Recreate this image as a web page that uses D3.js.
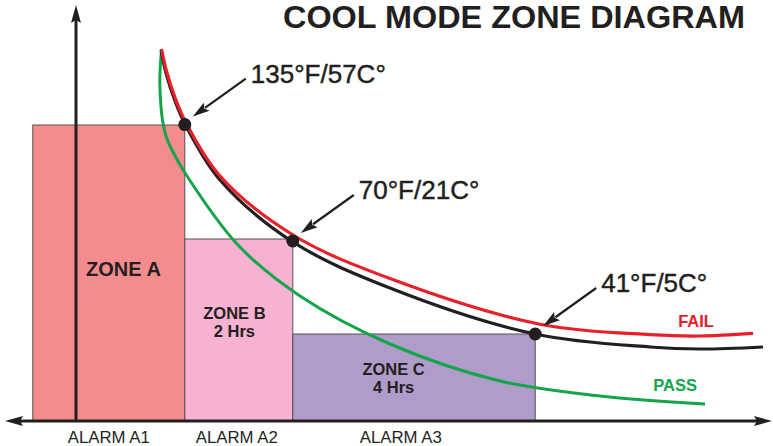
<!DOCTYPE html>
<html>
<head>
<meta charset="utf-8">
<script src="https://cdn.jsdelivr.net/npm/d3@7"></script>
<style>
  html, body { margin: 0; padding: 0; background: #ffffff; }
  svg { display: block; }
  text { font-family: "Liberation Sans", Arial, Helvetica, sans-serif; fill: #231f20; }
</style>
</head>
<body>
<svg id="chart" width="773" height="446"></svg>
<script>
// ---------------- DATA ----------------
const title = "COOL MODE ZONE DIAGRAM";

const zoneNames     = ["ZONE A", "ZONE B", "ZONE C"];
const zoneDurations = ["", "2 Hrs", "4 Hrs"];
const zoneStart     = [-5.4, 13.6, 27.1];
const zoneEnd       = [13.6, 27.1, 57.4];
const zoneLevel     = [74, 45.5, 21.75];

const alarmLabels = ["ALARM A1", "ALARM A2", "ALARM A3"];

const thresholdLabels = ["135°F/57C°", "70°F/21C°", "41°F/5C°"];
const thresholdX      = [13.6, 27.1, 57.4];
const thresholdY      = [74.1, 45.0, 21.75];

// reference (black) cooling curve
const limitCurve = [
  [10.63, 92.75], [11.25, 87.0], [12.38, 80.0], [13.63, 74.25], [18.0, 60.25],
  [27.13, 44.75], [39.25, 33.25], [57.38, 21.75], [71.75, 18.5], [78.0, 18.0], [85.88, 18.5]
];
// FAIL (red) curve
const failCurve = [
  [10.69, 93.0], [11.31, 87.5], [12.44, 80.5], [13.63, 75.0], [18.0, 61.25],
  [27.13, 46.5], [39.25, 35.6], [58.0, 24.2], [71.75, 21.6], [78.0, 21.25], [84.63, 21.9]
];
// PASS (green) curve
const passCurve = [
  [10.69, 92.75], [10.48, 85.75], [10.58, 79.75], [10.81, 75.25], [11.25, 71.25],
  [12.0, 67.75], [13.63, 62.0], [20.25, 44.0], [28.0, 31.25], [39.25, 19.25],
  [53.0, 10.0], [65.5, 6.25], [78.63, 4.25]
];

const curveLabels = ["FAIL", "PASS"];

// ---------------- LAYOUT / STYLE ----------------
const W = 773, H = 446;
const ink = "#231f20";
const zoneFill = ["#f48c8d", "#f7b1d1", "#b09ccb"];
const failColor = "#e8202a";
const passColor = "#14a54a";

const x = d3.scaleLinear().domain([-8.875, 87]).range([5, 772]);
const y = d3.scaleLinear().domain([0, 104]).range([421, 5]);

const svg = d3.select("#chart");

// zones
const zones = zoneNames.map((n, i) => ({ name: n, dur: zoneDurations[i], x0: zoneStart[i], x1: zoneEnd[i], top: zoneLevel[i], fill: zoneFill[i] }));
svg.append("g").selectAll("rect").data(zones).join("rect")
  .attr("x", d => x(d.x0))
  .attr("y", d => y(d.top))
  .attr("width", d => x(d.x1) - x(d.x0))
  .attr("height", d => y(0) - y(d.top))
  .attr("fill", d => d.fill)
  .attr("stroke", "#555152")
  .attr("stroke-width", 1);

// y axis (vertical arrow)
const ax0 = x(0);
svg.append("line")
  .attr("x1", ax0).attr("x2", ax0)
  .attr("y1", y(0)).attr("y2", y(104) + 14)
  .attr("stroke", ink).attr("stroke-width", 3);
svg.append("path")
  .attr("d", `M${ax0},${y(104)} L${ax0 - 5},${y(104) + 18} L${ax0},${y(104) + 15} L${ax0 + 5},${y(104) + 18} Z`)
  .attr("fill", ink);

// curves
const line = d3.line().x(d => x(d[0])).y(d => y(d[1])).curve(d3.curveCatmullRom.alpha(0.5));
svg.append("path").attr("d", line(passCurve)).attr("fill", "none").attr("stroke", passColor).attr("stroke-width", 3);
svg.append("path").attr("d", line(limitCurve)).attr("fill", "none").attr("stroke", ink).attr("stroke-width", 3.2);
svg.append("path").attr("d", line(failCurve)).attr("fill", "none").attr("stroke", failColor).attr("stroke-width", 3.2);

// x axis (double arrow)
const xa = y(0), xl = x(-8.875), xr = x(87);
svg.append("line")
  .attr("x1", xl + 12).attr("x2", xr - 12)
  .attr("y1", xa).attr("y2", xa)
  .attr("stroke", ink).attr("stroke-width", 3);
svg.append("path")
  .attr("d", `M${xl},${xa} L${xl + 18},${xa - 5} L${xl + 15},${xa} L${xl + 18},${xa + 5} Z`)
  .attr("fill", ink);
svg.append("path")
  .attr("d", `M${xr},${xa} L${xr - 18},${xa - 5} L${xr - 15},${xa} L${xr - 18},${xa + 5} Z`)
  .attr("fill", ink);

// threshold dots
const pts = thresholdLabels.map((t, i) => ({ label: t, px: x(thresholdX[i]), py: y(thresholdY[i]) }));
svg.append("g").selectAll("circle").data(pts).join("circle")
  .attr("cx", d => d.px).attr("cy", d => d.py).attr("r", 6.5).attr("fill", ink);

// pointer arrows + labels
const tipOff = [8, -8], tailOff = [61, -46];
pts.forEach(d => {
  const tx = d.px + tipOff[0], ty = d.py + tipOff[1];
  const sx = d.px + tailOff[0], sy = d.py + tailOff[1];
  const ang = Math.atan2(ty - sy, tx - sx);
  const L = 17, hw = 5;
  const bx = tx - L * Math.cos(ang), by = ty - L * Math.sin(ang);
  const nx = -Math.sin(ang), ny = Math.cos(ang);
  svg.append("line").attr("x1", sx).attr("y1", sy).attr("x2", bx + 2 * Math.cos(ang)).attr("y2", by + 2 * Math.sin(ang))
    .attr("stroke", ink).attr("stroke-width", 2.2);
  svg.append("path")
    .attr("d", `M${tx},${ty} L${bx + nx * hw},${by + ny * hw} L${bx + 3 * Math.cos(ang)},${by + 3 * Math.sin(ang)} L${bx - nx * hw},${by - ny * hw} Z`)
    .attr("fill", ink);
  svg.append("text")
    .attr("x", d.px + 66).attr("y", d.py - 42)
    .attr("font-size", 26)
    .attr("stroke", ink).attr("stroke-width", 0.45)
    .text(d.label);
});

// zone labels
const zoneLabelPos = [[5.94, 36.25], [19.8, 25.4], [39.7, 11.4]];
const zoneLabelSize = [20, 16.5, 16.5];
zones.forEach((z, i) => {
  svg.append("text")
    .attr("x", x(zoneLabelPos[i][0])).attr("y", y(zoneLabelPos[i][1]))
    .attr("text-anchor", "middle").attr("font-weight", "bold")
    .attr("font-size", zoneLabelSize[i])
    .text(z.name);
  if (z.dur) {
    svg.append("text")
      .attr("x", x(zoneLabelPos[i][0])).attr("y", y(zoneLabelPos[i][1]) + 17.5)
      .attr("text-anchor", "middle").attr("font-weight", "bold")
      .attr("font-size", zoneLabelSize[i])
      .text(z.dur);
  }
});

// alarm labels
const alarmPos = [4.1, 20.1, 40.6];
alarmLabels.forEach((a, i) => {
  svg.append("text")
    .attr("x", x(alarmPos[i])).attr("y", 443)
    .attr("text-anchor", "middle")
    .attr("font-size", 16)
    .attr("textLength", 82).attr("lengthAdjust", "spacingAndGlyphs")
    .text(a);
});

// FAIL / PASS labels
const curveLabelPos = [[77.5, 23.5], [74.9, 7.5]];
const curveLabelColor = [failColor, passColor];
curveLabels.forEach((c, i) => {
  svg.append("text")
    .attr("x", x(curveLabelPos[i][0])).attr("y", y(curveLabelPos[i][1]))
    .attr("text-anchor", "middle").attr("font-weight", "bold")
    .attr("font-size", 16.5)
    .style("fill", curveLabelColor[i])
    .text(c);
});

// title
svg.append("text")
  .attr("x", 745).attr("y", 28)
  .attr("text-anchor", "end").attr("font-weight", "bold")
  .attr("font-size", 32)
  .attr("textLength", 462).attr("lengthAdjust", "spacingAndGlyphs")
  .text(title);
</script>
</body>
</html>
